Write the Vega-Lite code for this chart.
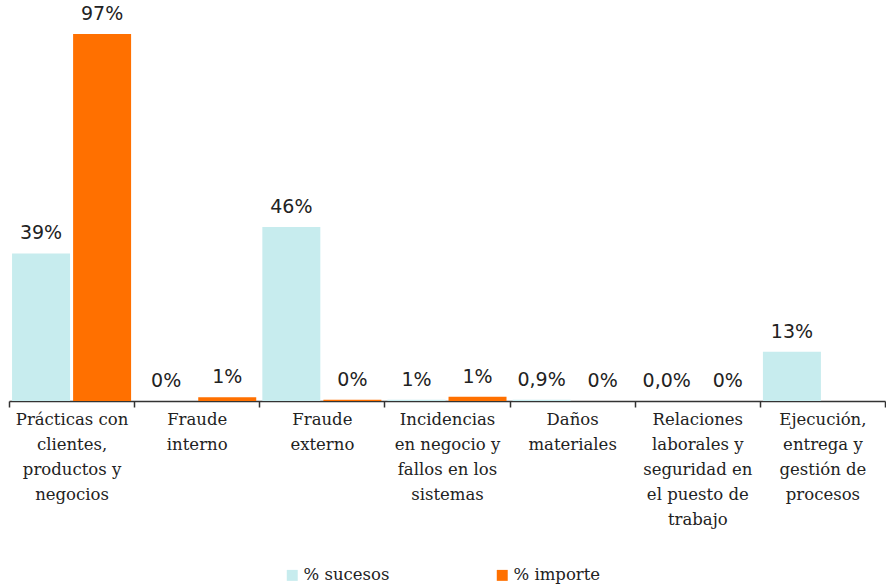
{
  "$schema": "https://vega.github.io/schema/vega-lite/v6.json",
  "width": 876,
  "height": 401,
  "padding": {"left": 8, "top": 0, "right": 2, "bottom": 0},
  "autosize": {"type": "pad"},
  "background": "white",
  "data": {
    "values": [
      {"categoria": "Prácticas con|clientes,|productos y|negocios", "serie": "% sucesos", "valor": 39, "etiqueta": "39%"},
      {"categoria": "Prácticas con|clientes,|productos y|negocios", "serie": "% importe", "valor": 97, "etiqueta": "97%"},
      {"categoria": "Fraude|interno", "serie": "% sucesos", "valor": 0, "etiqueta": "0%"},
      {"categoria": "Fraude|interno", "serie": "% importe", "valor": 1.0, "etiqueta": "1%"},
      {"categoria": "Fraude|externo", "serie": "% sucesos", "valor": 46, "etiqueta": "46%"},
      {"categoria": "Fraude|externo", "serie": "% importe", "valor": 0.3, "etiqueta": "0%"},
      {"categoria": "Incidencias|en negocio y|fallos en los|sistemas", "serie": "% sucesos", "valor": 0.3, "etiqueta": "1%"},
      {"categoria": "Incidencias|en negocio y|fallos en los|sistemas", "serie": "% importe", "valor": 1.1, "etiqueta": "1%"},
      {"categoria": "Daños|materiales", "serie": "% sucesos", "valor": 0.3, "etiqueta": "0,9%"},
      {"categoria": "Daños|materiales", "serie": "% importe", "valor": 0, "etiqueta": "0%"},
      {"categoria": "Relaciones|laborales y|seguridad en|el puesto de|trabajo", "serie": "% sucesos", "valor": 0, "etiqueta": "0,0%"},
      {"categoria": "Relaciones|laborales y|seguridad en|el puesto de|trabajo", "serie": "% importe", "valor": 0, "etiqueta": "0%"},
      {"categoria": "Ejecución,|entrega y|gestión de|procesos", "serie": "% sucesos", "valor": 13, "etiqueta": "13%"},
      {"categoria": "Ejecución,|entrega y|gestión de|procesos", "serie": "% importe", "valor": 0, "etiqueta": ""}
    ]
  },
  "encoding": {
    "x": {
      "field": "categoria",
      "type": "nominal",
      "sort": null,
      "scale": {"paddingInner": 0, "paddingOuter": 0},
      "axis": {
        "title": null,
        "labelAngle": 0,
        "labelExpr": "split(datum.label, '|')",
        "labelFont": "DejaVu Serif",
        "labelFontSize": 16.5,
        "labelLineHeight": 25,
        "labelColor": "#222222",
        "labelPadding": 4,
        "labelBaseline": "top",
        "labelLimit": 200,
        "tickBand": "extent",
        "tickSize": 6,
        "tickColor": "#333333",
        "tickWidth": 1.5,
        "domainColor": "#333333",
        "domainWidth": 1.5,
        "grid": false
      }
    },
    "xOffset": {
      "field": "serie",
      "type": "nominal",
      "sort": ["% sucesos", "% importe"],
      "scale": {"paddingInner": 0.05, "paddingOuter": 0.05}
    }
  },
  "layer": [
    {
      "mark": {"type": "bar"},
      "encoding": {
        "y": {
          "field": "valor",
          "type": "quantitative",
          "scale": {"domain": [0, 106], "nice": false},
          "axis": null
        },
        "color": {
          "field": "serie",
          "type": "nominal",
          "sort": ["% sucesos", "% importe"],
          "scale": {"domain": ["% sucesos", "% importe"], "range": ["#c7ecee", "#ff7000"]},
          "legend": {
            "title": null,
            "orient": "none",
            "legendX": 275,
            "legendY": 567,
            "direction": "horizontal",
            "symbolType": "square",
            "symbolSize": 120,
            "symbolStrokeWidth": 0,
            "labelFont": "DejaVu Serif",
            "labelFontSize": 16.5,
            "labelColor": "#222222",
            "columnPadding": 104,
            "labelOffset": 3
          }
        }
      }
    },
    {
      "mark": {"type": "text", "baseline": "bottom", "dy": -10, "font": "DejaVu Sans", "fontSize": 19, "color": "#222222"},
      "encoding": {
        "y": {"field": "valor", "type": "quantitative"},
        "text": {"field": "etiqueta"}
      }
    }
  ],
  "config": {"view": {"stroke": null}}
}
